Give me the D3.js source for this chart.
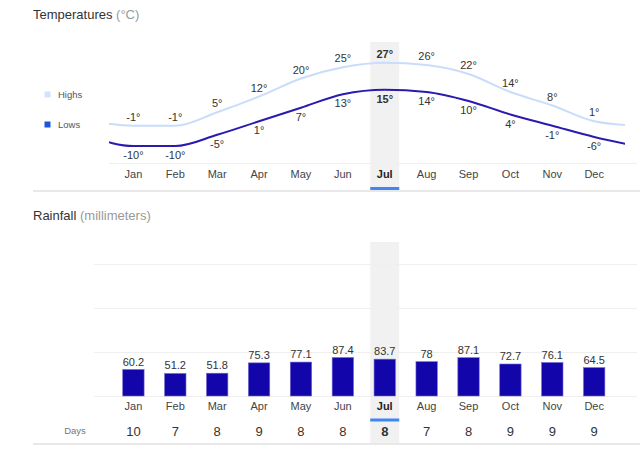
<!DOCTYPE html>
<html><head><meta charset="utf-8">
<script src="https://cdn.jsdelivr.net/npm/d3@7"></script>
<style>
body{margin:0;background:#fff;font-family:Arial,"Liberation Sans",sans-serif;}
</style></head>
<body><svg id="c" width="642" height="455"></svg>
<script>
const months = ["Jan","Feb","Mar","Apr","May","Jun","Jul","Aug","Sep","Oct","Nov","Dec"];
const highs = [-1,-1,5,12,20,25,27,26,22,14,8,1];
const lows = [-10,-10,-5,1,7,13,15,14,10,4,-1,-6];
const rainfall = [60.2,51.2,51.8,75.3,77.1,87.4,83.7,78,87.1,72.7,76.1,64.5];
const rainDays = [10,7,8,9,8,8,8,7,8,9,9,9];
const selected = "Jul";

const svg = d3.select("#c");
const x = d3.scaleBand().domain(months).range([102.2, 625.4]).padding(0.49);
const cx = m => x(m) + x.bandwidth()/2;
const step = x.step();

// Titles
const t1 = svg.append("text").attr("x",33).attr("y",19).attr("font-size",13).attr("fill","#333");
t1.append("tspan").text("Temperatures ");
t1.append("tspan").attr("fill","#999").text("(°C)");
const t2 = svg.append("text").attr("x",33).attr("y",220).attr("font-size",13).attr("fill","#333");
t2.append("tspan").text("Rainfall ");
t2.append("tspan").attr("fill","#999").text("(millimeters)");

// Highlight for selected month
const selX = x(selected) + x.bandwidth()/2 - 14.5;
svg.append("rect").attr("x",selX).attr("y",42).attr("width",29).attr("height",148).attr("fill","#f1f1f1");
svg.append("rect").attr("x",selX).attr("y",242).attr("width",29).attr("height",201).attr("fill","#f1f1f1");
svg.append("rect").attr("x",selX).attr("y",187).attr("width",29).attr("height",3).attr("fill","#4285f4");
svg.append("rect").attr("x",selX).attr("y",418.5).attr("width",29).attr("height",3).attr("fill","#4285f4");

// Temperature chart
const yT = d3.scaleLinear().domain([-10, 27]).range([146, 62.75]);
svg.append("line").attr("x1",109).attr("x2",637).attr("y1",163.5).attr("y2",163.5).attr("stroke","#f0f0f0");

const defs = svg.append("defs");
defs.append("clipPath").attr("id","tclip").append("rect").attr("x",109).attr("y",0).attr("width",516).attr("height",200);

function ext(arr){
  const pts = arr.map((v,i)=>[cx(months[i]), yT(v)]);
  pts.unshift([cx(months[0]) - step, yT(arr[arr.length-1])]);
  pts.push([cx(months[11]) + step, yT(arr[0])]);
  return pts;
}
const line = d3.line().curve(d3.curveMonotoneX);
const g = svg.append("g").attr("clip-path","url(#tclip)");
g.append("path").attr("d",line(ext(highs))).attr("fill","none").attr("stroke","#c9dcfb").attr("stroke-width",2);
g.append("path").attr("d",line(ext(lows))).attr("fill","none").attr("stroke","#2a1ab0").attr("stroke-width",2);

svg.selectAll(".hl").data(highs).join("text")
  .attr("x",(d,i)=>cx(months[i])).attr("y",d=>yT(d)-5)
  .attr("text-anchor","middle").attr("font-size",11).attr("fill","#333")
  .attr("font-weight",(d,i)=>months[i]===selected?"bold":"normal")
  .text(d=>d+"°");
svg.selectAll(".ll").data(lows).join("text")
  .attr("x",(d,i)=>cx(months[i])).attr("y",d=>yT(d)+13)
  .attr("text-anchor","middle").attr("font-size",11).attr("fill","#333")
  .attr("font-weight",(d,i)=>months[i]===selected?"bold":"normal")
  .text(d=>d+"°");

// Temp month axis
const axT = svg.append("g").attr("transform","translate(0,0)");
axT.selectAll("text").data(months).join("text")
  .attr("x",d=>cx(d)).attr("y",178).attr("text-anchor","middle").attr("font-size",11)
  .attr("fill",d=>d===selected?"#222":"#444").attr("font-weight",d=>d===selected?"bold":"normal")
  .text(d=>d);

// Legend
svg.append("rect").attr("x",44.5).attr("y",91.5).attr("width",6).attr("height",6).attr("fill","#d2e3fc");
svg.append("text").attr("x",58).attr("y",98).attr("font-size",9.5).attr("fill","#555").text("Highs");
svg.append("rect").attr("x",44.5).attr("y",121.5).attr("width",6).attr("height",6).attr("fill","#1a56db");
svg.append("text").attr("x",58).attr("y",128).attr("font-size",9.5).attr("fill","#555").text("Lows");

// Separator lines
svg.append("rect").attr("x",33).attr("y",190).attr("width",607).attr("height",2).attr("fill","#e8e8e8");
svg.append("rect").attr("x",33).attr("y",443).attr("width",607).attr("height",2).attr("fill","#e8e8e8");

// Rainfall chart
const yR = d3.scaleLinear().domain([0,300]).range([396,264]);
svg.selectAll(".grid").data([100,200,300]).join("line")
  .attr("x1",94).attr("x2",637).attr("y1",d=>Math.round(yR(d))+0.5).attr("y2",d=>Math.round(yR(d))+0.5)
  .attr("stroke","#efefef");
svg.append("line").attr("x1",94).attr("x2",637).attr("y1",396.5).attr("y2",396.5).attr("stroke","#efefef");

svg.selectAll(".bar").data(rainfall).join("rect")
  .attr("x",(d,i)=>x(months[i])).attr("width",x.bandwidth())
  .attr("y",d=>yR(d)).attr("height",d=>yR(0)-yR(d))
  .attr("fill","#1206aa").attr("stroke","#6f66d0").attr("stroke-width",0.6);
svg.selectAll(".bl").data(rainfall).join("text")
  .attr("x",(d,i)=>cx(months[i])).attr("y",d=>yR(d)-4)
  .attr("text-anchor","middle").attr("font-size",11).attr("fill","#333")
  .text(d=>d);

svg.append("g").selectAll("text").data(months).join("text")
  .attr("x",d=>cx(d)).attr("y",410).attr("text-anchor","middle").attr("font-size",11)
  .attr("fill",d=>d===selected?"#222":"#444").attr("font-weight",d=>d===selected?"bold":"normal")
  .text(d=>d);

// Days row
svg.append("text").attr("x",75).attr("y",434).attr("text-anchor","middle").attr("font-size",9.5).attr("fill","#777").text("Days");
svg.append("g").selectAll("text").data(rainDays).join("text")
  .attr("x",(d,i)=>cx(months[i])).attr("y",436).attr("text-anchor","middle").attr("font-size",13)
  .attr("fill","#333").attr("font-weight",(d,i)=>months[i]===selected?"bold":"normal")
  .text(d=>d);
</script></body></html>
